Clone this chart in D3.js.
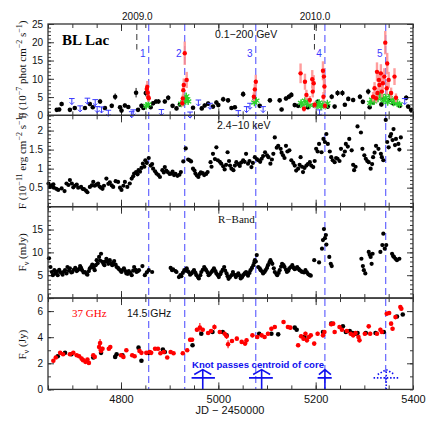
<!DOCTYPE html>
<html>
<head>
<meta charset="utf-8">
<script src="https://cdn.jsdelivr.net/npm/d3@7"></script>
<style>
  body { margin: 0; background: #fff; }
  text { font-family: "Liberation Sans", Arial, sans-serif; }
  .serif { font-family: "Liberation Serif", "Times New Roman", serif; }
</style>
</head>
<body>
<svg id="chart" width="436" height="436"></svg>
<script>
// ---- data (JD - 2450000) ----

// Fermi-LAT weekly fluxes [jd, flux, err]
const gammaWeekly = [
  [4668,1.5,0.5],[4673,1.6,0.5],[4678,3.1,0.6],[4695,1.5,0.5],[4705,2.0,0.5],[4726,2.0,0.5],
  [4736,3.1,0.6],[4742,2.2,0.5],[4757,3.8,0.7],[4767,2.0,0.5],[4781,2.6,0.6],[4788,5.1,0.9],
  [4798,2.2,0.5],[4801,1.3,0.4],[4808,2.7,0.6],[4815,2.3,0.5],[4831,6.2,1.3],[4835,1.5,0.5],
  [4842,2.6,0.6],[4846,2.0,0.5],[4851,6.1,0.9],[4861,2.2,0.5],[4866,3.3,0.6],[4872,3.8,0.6],
  [4877,3.8,0.6],[4890,3.8,0.6],[4897,4.8,0.7],[4906,2.6,0.5],[4914,1.9,0.5],[4921,3.0,0.6],
  [4948,2.1,0.5],[4966,1.9,0.5],[4972,2.7,0.6],[4979,3.2,0.6],[4989,2.4,0.5],[4996,3.5,0.6],
  [5000,2.8,0.5],[5010,4.4,0.7],[5020,4.1,0.6],[5027,2.0,0.5],[5034,2.2,0.5],[5051,5.8,0.8],
  [5075,4.4,0.7],[5085,2.6,0.5],[5106,4.1,0.6],[5126,4.1,0.6],[5130,1.6,0.5],[5139,4.6,0.6],
  [5145,5.1,0.7],[5150,5.6,0.7],[5157,2.8,0.5],[5164,2.6,0.5],[5184,2.2,0.5],[5198,2.6,0.5],
  [5204,3.7,0.6],[5225,2.4,0.5],[5233,5.1,0.7],[5239,2.4,0.5],[5245,6.1,0.8],[5255,6.1,0.8],
  [5260,2.9,0.5],[5267,4.5,0.6],[5277,4.2,0.6],[5291,5.1,0.7],[5297,3.7,0.6],[5308,6.5,0.8],
  [5311,2.2,0.5],[5318,3.5,0.6],[5335,3.0,0.6],[5338,4.6,0.7],[5352,4.2,0.6],[5359,3.3,0.6],
  [5373,2.6,0.5],[5386,4.8,0.7],[5390,2.4,0.5],[5396,1.5,0.5]
];

// weekly upper limits [jd, flux]
const gammaLimits = [
  [4699,4.6],[4716,2.6],[4731,4.7],[4747,4.3],[4751,2.4],[4760,2.3],[4774,1.4],[4822,1.0],
  [4825,1.5],[4883,1.6],[4942,0.9],[4959,4.2],[4983,3.3],[5041,1.3],[5058,2.4],[5065,3.3],
  [5092,2.4],[5208,1.5],[5383,4.6]
];

// daily fluxes during flares [jd, flux, err]
const gammaDaily = [
  [4853,7.2,1.4],[4854,7.8,1.6],[4855,6.2,1.3],[4856,5.0,1.1],[4857,4.7,1.0],
  [4926,3.3,0.9],[4927,4.6,1.1],[4928,6.9,1.5],[4929,8.3,1.8],[4931,17.0,3.2],[4935,9.7,2.2],
  [5073,5.1,1.2],[5075,7.1,1.5],[5077,9.2,1.9],
  [5169,11.5,2.7],[5176,1.8,0.8],[5178,9.2,2.2],[5181,5.6,1.4],[5188,4.2,1.1],[5193,9.9,2.5],
  [5194,6.5,1.6],[5196,8.8,2.2],[5198,2.9,0.9],[5215,12.2,2.6],[5216,5.1,1.3],[5217,10.6,2.3],
  [5218,7.9,1.8],[5219,2.6,0.9],
  [5318,5.1,1.3],[5321,7.4,1.7],[5324,4.7,1.2],[5326,11.9,2.6],[5327,6.1,1.5],[5330,9.7,2.2],
  [5331,8.3,1.9],[5334,11.5,2.5],[5336,6.5,1.6],[5338,8.8,2.0],[5341,10.6,2.3],[5343,19.9,3.2],
  [5346,7.4,1.7],[5347,14.2,2.9],[5350,9.7,2.2],[5355,6.1,1.5],[5362,10.6,2.3],[5365,4.8,1.2]
];

// 3-day binned fluxes [jd, flux, err]
const gammaBinned = [
  [4852,2.6,0.6],[4856,3.0,0.7],
  [4924,3.2,0.7],[4928,3.5,0.8],[4932,4.2,0.9],[4934,5.2,1.0],[4936,4.4,0.9],[4938,3.8,0.8],
  [5074,3.5,0.8],[5078,4.0,0.9],
  [5170,3.4,0.8],[5174,2.6,0.7],[5178,4.0,0.9],[5183,3.2,0.8],[5188,2.8,0.7],[5203,2.7,0.7],
  [5207,3.5,0.8],[5211,2.4,0.7],[5215,3.0,0.8],[5220,2.6,0.7],[5224,3.3,0.8],
  [5312,3.4,0.8],[5316,4.3,0.9],[5320,3.8,0.8],[5324,5.0,1.0],[5328,4.6,0.9],[5332,6.0,1.1],
  [5336,5.3,1.0],[5340,4.1,0.9],[5344,4.8,1.0],[5348,3.6,0.8],[5352,5.5,1.0],[5356,4.4,0.9],
  [5360,3.5,0.8],[5364,3.9,0.8],[5368,3.2,0.7],[5372,3.0,0.7]
];

// RXTE 2.4-10 keV [jd, flux]
const xray = [
  [4651,0.61],[4654,0.52],[4658,0.56],[4661,0.59],[4662,0.50],[4667,0.47],[4671,0.44],[4678,0.48],
  [4684,0.41],[4688,0.61],[4692,0.57],[4695,0.70],[4699,0.61],[4702,0.51],[4705,0.55],[4709,0.58],
  [4712,0.50],[4718,0.52],[4721,0.47],[4724,0.46],[4728,0.42],[4731,0.38],[4736,0.52],[4740,0.56],
  [4743,0.65],[4746,0.55],[4750,0.58],[4753,0.61],[4756,0.53],[4759,0.50],[4762,0.47],[4765,0.55],
  [4770,0.74],[4774,0.60],[4777,0.64],[4781,0.56],[4784,0.52],[4789,0.67],[4794,0.65],[4798,0.50],
  [4801,0.44],[4805,0.55],[4808,0.65],[4813,0.52],[4818,0.61],[4822,0.74],[4825,0.80],[4827,0.87],
  [4831,0.91],[4834,0.85],[4836,0.96],[4839,0.92],[4842,1.02],[4845,1.13],[4848,1.05],[4850,1.22],
  [4853,1.15],[4857,1.28],[4861,1.08],[4864,1.12],[4866,1.00],[4870,0.93],[4873,0.87],[4877,0.83],
  [4880,0.78],[4885,0.96],[4888,0.90],[4890,1.04],[4893,0.95],[4896,0.91],[4900,0.86],[4903,0.87],
  [4906,0.92],[4909,0.83],[4912,0.86],[4916,0.81],[4920,0.84],[4923,0.91],[4928,1.19],[4933,1.53],
  [4938,1.24],[4941,1.22],[4944,1.19],[4948,1.00],[4951,0.95],[4953,0.87],[4956,0.82],[4959,0.78],
  [4962,0.86],[4964,0.90],[4968,0.88],[4971,0.83],[4975,0.86],[4978,0.91],[4984,1.17],[4986,1.05],
  [4989,1.39],[4993,1.25],[4996,1.56],[4999,1.22],[5003,1.18],[5006,1.13],[5010,1.06],[5013,0.98],
  [5016,1.10],[5019,1.43],[5022,1.20],[5024,1.08],[5027,1.00],[5031,0.96],[5034,1.08],[5037,1.17],
  [5041,1.12],[5044,1.07],[5047,1.16],[5051,1.22],[5054,1.18],[5057,1.39],[5061,1.13],[5064,1.20],
  [5068,1.04],[5071,1.15],[5075,1.30],[5079,1.25],[5082,1.22],[5086,1.18],[5089,1.26],[5092,1.33],
  [5096,1.43],[5100,1.35],[5103,1.30],[5107,1.13],[5110,1.24],[5113,1.39],[5116,1.82],[5120,1.55],
  [5123,1.60],[5128,1.52],[5130,1.42],[5133,1.35],[5136,1.28],[5139,1.60],[5142,1.45],[5146,1.48],
  [5150,1.22],[5154,1.15],[5157,1.08],[5160,0.95],[5164,1.00],[5167,1.10],[5169,1.30],[5172,1.05],
  [5174,0.91],[5177,1.02],[5181,1.08],[5184,1.12],[5188,1.17],[5191,1.08],[5195,1.04],[5198,1.20],
  [5201,1.52],[5204,1.45],[5207,1.65],[5212,1.43],[5216,1.78],[5219,1.70],[5222,1.91],[5225,1.65],
  [5229,1.45],[5232,1.30],[5235,1.22],[5239,1.17],[5242,1.28],[5245,1.26],[5249,1.20],[5252,1.52],
  [5257,1.35],[5260,1.45],[5262,1.65],[5266,1.58],[5269,1.78],[5274,1.48],[5277,1.10],[5279,0.96],
  [5282,1.05],[5286,2.11],[5293,1.95],[5296,1.52],[5300,1.35],[5303,1.26],[5306,1.20],[5309,1.17],
  [5313,1.00],[5316,1.12],[5318,1.30],[5321,1.42],[5324,1.60],[5329,1.52],[5334,1.39],[5336,1.30],
  [5339,1.22],[5344,2.28],[5347,1.70],[5350,1.56],[5353,1.85],[5355,1.91],[5358,1.75],[5360,2.04],
  [5363,1.62],[5365,1.78],[5370,1.65],[5372,1.50],[5375,1.82]
];

// R-band optical [jd, mJy]
const rband = [
  [4652,8.7],[4655,6.8],[4658,5.7],[4660,5.0],[4663,6.1],[4665,5.4],[4668,5.8],[4670,5.0],
  [4673,6.2],[4675,5.7],[4678,5.5],[4680,5.1],[4683,5.8],[4685,6.1],[4688,5.4],[4690,6.8],
  [4693,6.0],[4695,6.5],[4698,5.6],[4700,5.7],[4703,6.2],[4706,6.6],[4709,5.9],[4711,6.1],
  [4714,6.4],[4716,7.0],[4718,6.6],[4720,6.1],[4723,5.6],[4726,5.7],[4729,5.3],[4731,5.1],
  [4734,5.9],[4736,6.5],[4739,6.9],[4741,7.3],[4744,6.6],[4746,6.1],[4748,7.2],[4750,8.3],
  [4752,7.6],[4755,9.0],[4757,8.2],[4759,9.7],[4762,7.9],[4764,7.5],[4766,7.2],[4768,8.0],
  [4770,8.6],[4772,8.0],[4774,7.5],[4777,8.3],[4780,7.6],[4782,7.2],[4784,7.7],[4786,8.1],
  [4789,7.3],[4791,6.8],[4794,6.6],[4796,6.3],[4799,6.0],[4801,5.7],[4804,6.2],[4806,6.5],
  [4809,5.9],[4811,5.4],[4814,5.3],[4816,5.9],[4819,5.5],[4822,5.0],[4825,6.0],[4827,6.8],
  [4830,6.2],[4832,5.7],[4835,5.9],[4837,6.1],[4844,7.0],[4849,5.0],[4853,5.6],[4857,6.1],
  [4864,5.7],
  [4902,6.6],[4905,6.1],[4907,6.3],[4912,5.9],[4914,5.7],[4919,4.6],[4922,5.0],[4924,4.8],
  [4927,5.5],[4930,6.1],[4933,6.0],[4935,6.5],[4937,5.9],[4939,5.7],[4942,5.1],[4945,5.4],
  [4948,5.8],[4950,6.1],[4953,5.5],[4955,5.0],[4958,4.6],[4960,4.3],[4963,5.0],[4965,5.7],
  [4968,6.2],[4971,6.8],[4973,6.4],[4975,6.1],[4978,5.6],[4980,5.0],[4983,5.3],[4986,5.7],
  [4988,6.0],[4991,6.5],[4994,5.9],[4996,5.4],[4999,5.0],[5001,4.6],[5004,5.2],[5006,5.7],
  [5009,6.2],[5012,6.8],[5014,6.0],[5017,5.4],[5019,4.8],[5021,4.2],[5024,4.6],[5027,5.0],
  [5030,5.7],[5033,5.1],[5036,4.6],[5038,5.0],[5041,5.4],[5044,4.9],[5046,4.3],[5049,4.6],
  [5051,5.0],[5054,5.4],[5057,5.7],[5059,5.2],[5061,4.9],[5064,5.5],[5066,6.1],[5069,6.6],
  [5072,7.2],[5074,7.8],[5075,8.3],[5077,8.0],[5079,9.4],[5082,6.8],[5085,6.5],[5087,6.1],
  [5090,5.8],[5092,5.4],[5095,5.7],[5097,6.1],[5100,6.6],[5102,7.2],[5105,7.8],[5107,8.3],
  [5109,7.8],[5111,7.5],[5114,6.5],[5116,5.7],[5119,5.3],[5121,5.0],[5124,5.5],[5126,6.1],
  [5129,6.9],[5131,7.5],[5134,7.2],[5136,6.8],[5139,6.2],[5141,5.7],[5144,6.0],[5146,6.5],
  [5149,6.8],[5152,7.2],[5155,6.6],[5157,6.3],[5160,6.5],[5162,6.8],[5165,6.4],[5167,6.1],
  [5170,5.9],[5172,5.7],[5176,5.6],[5179,6.1],[5182,5.6],[5185,5.2],[5188,5.0],[5190,4.9],
  [5197,8.3],[5207,7.8],[5213,10.8],[5215,12.7],[5217,15.1],[5219,13.1],[5221,13.8],[5222,11.7],
  [5228,9.0],[5231,7.5],[5233,7.0],
  [5294,8.6],[5297,7.0],[5299,6.1],[5302,5.4],[5309,10.1],[5311,9.5],[5313,9.0],[5315,7.5],
  [5317,9.7],[5333,10.1],[5337,11.6],[5339,14.1],[5342,10.8],[5345,11.6],[5357,9.7],[5359,9.2],
  [5361,9.0],[5364,8.6],[5367,8.3],[5372,8.6]
];

// 37 GHz [jd, Jy, err]
const radio37 = [
  [4661,2.19,0.12],[4666,2.44,0.12],[4675,2.80,0.12],[4681,2.69,0.12],[4695,2.69,0.12],[4702,2.80,0.12],
  [4709,2.62,0.12],[4714,2.54,0.12],[4719,2.36,0.12],[4722,2.24,0.12],[4727,2.11,0.12],[4731,2.29,0.12],
  [4734,2.03,0.12],[4743,2.62,0.12],[4746,2.49,0.12],[4755,3.25,0.30],[4757,3.56,0.30],[4759,2.95,0.15],
  [4762,3.12,0.15],[4775,3.12,0.12],[4778,3.25,0.12],[4800,2.62,0.12],[4805,2.49,0.12],[4811,3.00,0.12],
  [4823,2.62,0.12],[4828,2.54,0.12],[4838,2.95,0.12],[4842,2.80,0.12],[4852,2.80,0.12],[4859,2.87,0.12],
  [4862,2.80,0.12],[4870,3.12,0.12],[4876,3.12,0.12],[4881,2.77,0.12],[4888,2.87,0.12],[4895,2.44,0.12],
  [4902,2.87,0.12],[4908,2.77,0.12],[4927,2.77,0.12],[4936,3.00,0.12],[4942,3.81,0.15],[4946,3.81,0.15],
  [4956,4.57,0.15],[4962,4.73,0.35],[4968,4.57,0.15],[4979,4.32,0.15],[4985,4.47,0.15],[4992,4.78,0.20],
  [5003,4.40,0.15],[5013,4.27,0.15],[5017,4.07,0.20],[5020,3.46,0.30],[5028,3.71,0.15],[5038,3.89,0.15],
  [5048,3.64,0.15],[5055,3.51,0.15],[5058,3.76,0.15],[5070,4.14,0.15],[5080,4.02,0.15],[5089,4.14,0.15],
  [5095,4.02,0.15],[5102,4.27,0.15],[5109,4.65,0.15],[5116,4.78,0.15],[5134,5.16,0.15],[5143,4.78,0.15],
  [5148,4.73,0.15],[5164,3.38,0.15],[5170,4.07,0.15],[5175,3.89,0.15],[5179,4.27,0.15],[5182,3.76,0.15],
  [5186,4.02,0.15],[5190,4.14,0.15],[5197,3.51,0.15],[5204,4.27,0.15],[5215,4.14,0.15],[5218,4.40,0.15],
  [5232,4.99,0.15],[5236,5.04,0.15],[5239,4.40,0.15],[5249,4.78,0.15],[5254,4.57,0.15],[5264,4.47,0.15],
  [5272,4.27,0.15],[5277,4.14,0.15],[5282,4.32,0.15],[5288,4.02,0.15],[5290,3.76,0.15],[5301,4.27,0.15],
  [5309,4.83,0.15],[5312,4.27,0.15],[5326,4.27,0.15],[5333,4.57,0.15],[5336,4.40,0.15],[5346,5.80,0.15],
  [5351,5.85,0.15],[5355,5.04,0.15],[5358,4.65,0.15],[5364,5.54,0.15],[5374,6.31,0.15],[5376,6.18,0.15]
];

// 14.5 GHz [jd, Jy]
const radio15 = [
  [4670,2.54],[4685,2.80],[4698,2.69],[4743,2.44],[4759,2.80],[4788,2.49],[4791,2.69],[4803,2.62],
  [4836,3.20],[4842,2.19],[4857,2.80],[4886,3.05],[4890,2.87],[4947,3.38],[4965,4.27],[4988,4.40],
  [5009,4.40],[5017,4.14],[5084,4.27],[5109,4.27],[5123,4.22],[5157,4.73],[5161,4.57],[5177,4.02],
  [5215,4.40],[5232,5.04],[5256,4.83],[5262,4.40],[5270,4.47],[5276,4.32],[5282,4.27],[5286,4.32],
  [5303,4.32],[5323,4.32],[5340,4.40],[5367,5.59],[5379,5.74]
];

// gamma-ray flare epochs (blue dashed lines) and their labels
const flareJD = [4857, 4931, 5077, 5219, 5344];
const flareLabels = ['1', '2', '3', '4', '5'];
// calendar year markers
const yearJD = [4832.5, 5197.5];
const yearLabels = ['2009.0', '2010.0'];
// knot passages: [jd, -err, +err, dotted]
const knots = [[4968, 23, 25, 0], [5089, 26, 23, 0], [5219, 15, 14, 0], [5345, 26, 26, 1]];

// ---- layout ----
const svg = d3.select('#chart');
const left = 48, right = 413, top0 = 24, ph = 91.35;
const x = d3.scaleLinear().domain([4650, 5400]).range([left, right]);
const plain = d => String(d);

const panels = [
  {domain: [0, 25], labels: [0, 5, 10, 15, 20, 25], minor: d3.range(0, 25.1, 1)},
  {domain: [0, 2.4], labels: [0.5, 1, 1.5, 2], minor: d3.range(0, 2.41, 0.1)},
  {domain: [0, 20], labels: [0, 5, 10, 15], minor: d3.range(0, 20.1, 1)},
  {domain: [0, 7], labels: [0, 2, 4, 6], minor: d3.range(0, 7.1, 1)}
];
panels.forEach((p, i) => {
  p.top = top0 + i * ph;
  p.y = d3.scaleLinear().domain(p.domain).range([p.top + ph, p.top]);
});
const bottom = top0 + 4 * ph;

// ---- axes ----
const xMajor = [4800, 5000, 5200];
const xMinor = d3.range(4650, 5401, 50);

panels.forEach(p => {
  const g = svg.append('g');
  g.append('g').attr('transform', `translate(${left},0)`)
    .call(d3.axisLeft(p.y).tickValues(p.minor).tickSize(-3).tickFormat(''));
  g.append('g').attr('transform', `translate(${left},0)`)
    .call(d3.axisLeft(p.y).tickValues(p.labels).tickSize(-6).tickPadding(5).tickFormat(plain));
  g.append('g').attr('transform', `translate(${right},0)`)
    .call(d3.axisRight(p.y).tickValues(p.minor).tickSize(-3).tickFormat(''));
  g.append('g').attr('transform', `translate(${right},0)`)
    .call(d3.axisRight(p.y).tickValues(p.labels.filter(v => v > 0)).tickSize(-6).tickFormat(''));
  [p.top, p.top + ph].forEach((yy, k) => {
    const ax = k === 0 ? d3.axisTop : d3.axisBottom;
    g.append('g').attr('transform', `translate(0,${yy})`)
      .call(ax(x).tickValues(xMinor).tickSize(-4).tickFormat(''));
    g.append('g').attr('transform', `translate(0,${yy})`)
      .call(ax(x).tickValues(xMajor).tickSize(-7).tickFormat(''));
  });
  g.selectAll('.domain').remove();
  g.selectAll('.tick line').attr('stroke', '#222').attr('stroke-width', 0.9);
  g.selectAll('.tick text').attr('font-size', 10).attr('fill', '#111')
    .attr('font-family', '"Liberation Sans", Arial, sans-serif');
});

// bottom labels
svg.append('g').attr('transform', `translate(0,${bottom})`)
  .call(d3.axisBottom(x).tickValues([4800, 5000, 5200, 5400]).tickSize(0).tickPadding(6).tickFormat(plain))
  .call(g => g.select('.domain').remove())
  .selectAll('text').attr('font-size', 11).attr('fill', '#111')
  .attr('font-family', '"Liberation Sans", Arial, sans-serif');

svg.append('text').attr('x', 230).attr('y', 414).attr('text-anchor', 'middle')
  .attr('font-size', 11).attr('fill', '#111').text('JD \u2212 2450000');

// top year labels
svg.append('g').attr('transform', `translate(0,${top0})`)
  .call(d3.axisTop(x).tickValues(yearJD).tickSize(0).tickPadding(4)
    .tickFormat((d, i) => yearLabels[i]))
  .call(g => g.select('.domain').remove())
  .selectAll('text').attr('font-size', 10).attr('fill', '#111')
  .attr('font-family', '"Liberation Sans", Arial, sans-serif');

// ---- reference lines ----
const p1 = panels[0], p4 = panels[3];
svg.append('g').selectAll('line').data(flareJD).join('line')
  .attr('x1', d => x(d)).attr('x2', d => x(d))
  .attr('y1', top0).attr('y2', bottom)
  .attr('stroke', '#4646ff').attr('stroke-width', 1).attr('stroke-dasharray', '7,4');

svg.append('g').selectAll('line').data(yearJD).join('line')
  .attr('x1', d => x(d)).attr('x2', d => x(d))
  .attr('y1', top0).attr('y2', p1.y(18))
  .attr('stroke', '#333').attr('stroke-width', 1).attr('stroke-dasharray', '6,4');

svg.append('g').selectAll('text').data(flareJD).join('text')
  .attr('x', d => x(d) - 6).attr('y', 57).attr('text-anchor', 'middle')
  .attr('font-size', 10).attr('fill', '#3a3aff')
  .text((d, i) => flareLabels[i]);

// ---- panel 1: gamma rays ----
const y1 = p1.y;
const gp = svg.append('g');

gp.selectAll('.wl').data(gammaWeekly).join('line')
  .attr('x1', d => x(d[0])).attr('x2', d => x(d[0]))
  .attr('y1', d => y1(d[1] - d[2])).attr('y2', d => y1(d[1] + d[2]))
  .attr('stroke', '#111').attr('stroke-width', 1);
gp.selectAll('.wc').data(gammaWeekly).join('circle')
  .attr('cx', d => x(d[0])).attr('cy', d => y1(d[1])).attr('r', 2.3).attr('fill', '#000');

// upper limits
gp.selectAll('.ul').data(gammaLimits).join('path')
  .attr('d', d => {
    const cx = x(d[0]), cy = y1(d[1]);
    return `M${cx - 2.8},${cy}H${cx + 2.8}M${cx},${cy}V${cy + 6}` +
      `M${cx - 2.2},${cy + 3.8}L${cx},${cy + 6}L${cx + 2.2},${cy + 3.8}`;
  })
  .attr('fill', 'none').attr('stroke', '#3a3aff').attr('stroke-width', 1);

// binned (green stars)
gp.selectAll('.bl').data(gammaBinned).join('line')
  .attr('x1', d => x(d[0])).attr('x2', d => x(d[0]))
  .attr('y1', d => y1(d[1] - d[2])).attr('y2', d => y1(d[1] + d[2]))
  .attr('stroke', '#3ada3a').attr('stroke-width', 1);
gp.selectAll('.bs').data(gammaBinned).join('path')
  .attr('d', d => {
    const cx = x(d[0]), cy = y1(d[1]), r = 3.6;
    let s = '';
    [90, 30, 150].forEach(a => {
      const dx = r * Math.cos(a * Math.PI / 180), dy = r * Math.sin(a * Math.PI / 180);
      s += `M${cx - dx},${cy - dy}L${cx + dx},${cy + dy}`;
    });
    return s;
  })
  .attr('stroke', '#2bd22b').attr('stroke-width', 1.3).attr('fill', 'none');

// daily (red)
gp.selectAll('.dl').data(gammaDaily).join('line')
  .attr('x1', d => x(d[0])).attr('x2', d => x(d[0]))
  .attr('y1', d => y1(d[1] - d[2])).attr('y2', d => y1(d[1] + d[2]))
  .attr('stroke', '#ff8c8c').attr('stroke-width', 2.4).attr('opacity', 0.85);
gp.selectAll('.dc').data(gammaDaily).join('circle')
  .attr('cx', d => x(d[0])).attr('cy', d => y1(d[1])).attr('r', 2.2).attr('fill', '#ff0000');

// ---- panel 2: X-rays ----
const y2 = panels[1].y;
svg.append('g').selectAll('circle').data(xray).join('circle')
  .attr('cx', d => x(d[0])).attr('cy', d => y2(d[1])).attr('r', 2.1).attr('fill', '#000');

// ---- panel 3: R band ----
const y3 = panels[2].y;
svg.append('g').selectAll('circle').data(rband).join('circle')
  .attr('cx', d => x(d[0])).attr('cy', d => y3(d[1])).attr('r', 2.1).attr('fill', '#000');

// ---- panel 4: radio ----
const y4 = p4.y;
const rg = svg.append('g');
rg.selectAll('.rl').data(radio37).join('line')
  .attr('x1', d => x(d[0])).attr('x2', d => x(d[0]))
  .attr('y1', d => y4(d[1] - d[2])).attr('y2', d => y4(d[1] + d[2]))
  .attr('stroke', '#ff2020').attr('stroke-width', 1.2);
rg.selectAll('.bc').data(radio15).join('circle')
  .attr('cx', d => x(d[0])).attr('cy', d => y4(d[1])).attr('r', 2.3).attr('fill', '#000');
rg.selectAll('.rc').data(radio37).join('circle')
  .attr('cx', d => x(d[0])).attr('cy', d => y4(d[1])).attr('r', 2.3).attr('fill', '#ff0000');

// knot arrows
const kg = svg.append('g').attr('stroke', '#1010ee').attr('fill', 'none');
knots.forEach(k => {
  const cx = x(k[0]), tip = y4(1.52), bar = y4(0.88);
  const hw = k[0] === 5219 ? 6 : 8.5;
  const dash = k[3] ? '1.5,1.8' : null;
  kg.append('path')
    .attr('d', `M${cx},${y4(0)}V${tip}M${cx - hw},${tip + 5}L${cx},${tip}L${cx + hw},${tip + 5}` +
      `M${x(k[0] - k[1])},${bar}H${x(k[0] + k[2])}`)
    .attr('stroke-width', 1.6).attr('stroke-dasharray', dash);
});
svg.append('text').attr('x', 192).attr('y', 368)
  .attr('font-size', 9.5).attr('font-weight', 'bold').attr('fill', '#1010ee')
  .attr('textLength', 132).attr('lengthAdjust', 'spacingAndGlyphs')
  .text('Knot passes centroid of core');

// ---- frames ----
panels.forEach(p => {
  svg.append('rect').attr('x', left).attr('y', p.top).attr('width', right - left).attr('height', ph)
    .attr('fill', 'none').attr('stroke', '#333').attr('stroke-width', 1.3);
});

// ---- panel annotations ----
svg.append('text').attr('class', 'serif').attr('x', 62).attr('y', 45)
  .attr('font-size', 15).attr('font-weight', 'bold').attr('fill', '#000').text('BL Lac');
svg.append('text').attr('x', 215).attr('y', 38).attr('font-size', 10.5).attr('fill', '#111')
  .text('0.1\u2212200 GeV');
svg.append('text').attr('x', 217).attr('y', 129).attr('font-size', 10.5).attr('fill', '#111')
  .text('2.4\u221210 keV');
svg.append('text').attr('class', 'serif').attr('x', 218).attr('y', 223).attr('font-size', 11)
  .attr('fill', '#111').text('R\u2212Band');
svg.append('text').attr('class', 'serif').attr('x', 72).attr('y', 317).attr('font-size', 11)
  .attr('fill', '#ff0000').text('37 GHz');
svg.append('text').attr('x', 127).attr('y', 317).attr('font-size', 10.5)
  .attr('fill', '#111').text('14.5 GHz');

// ---- y titles ----
function yTitle(cx, cy, parts) {
  const t = svg.append('text').attr('class', 'serif')
    .attr('transform', `translate(${cx},${cy}) rotate(-90)`)
    .attr('text-anchor', 'middle').attr('font-size', 11).attr('fill', '#111');
  let shift = 0;
  parts.forEach(([s, kind]) => {
    const ts = t.append('tspan').text(s);
    const target = kind === 'sup' ? -4 : kind === 'sub' ? 3 : 0;
    ts.attr('dy', target - shift);
    if (kind) ts.attr('font-size', 8);
    shift = target;
  });
}
yTitle(26, top0 + ph / 2, [['F (10'], ['\u22127', 'sup'], [' phot cm'], ['\u22122', 'sup'], [' s'], ['\u22121', 'sup'], [')']]);
yTitle(26, top0 + ph * 1.5, [['F (10'], ['\u221211', 'sup'], [' erg cm'], ['\u22122', 'sup'], [' s'], ['\u22121', 'sup'], [')']]);
yTitle(26, top0 + ph * 2.5, [['F'], ['\u03bd', 'sub'], [' (mJy)']]);
yTitle(26, top0 + ph * 3.5 + 1, [['F'], ['\u03bd', 'sub'], [' (Jy)']]);
</script>
</body>
</html>
